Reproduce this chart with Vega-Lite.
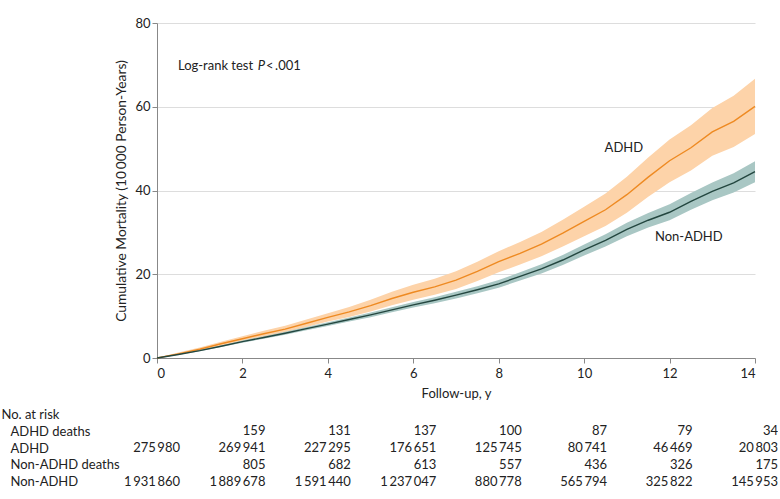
{
  "$schema": "https://vega.github.io/schema/vega-lite/v6.json",
  "padding": {"left": 1, "top": 17, "right": 0, "bottom": 0},
  "background": "white",
  "spacing": 6,
  "config": {
    "view": {"stroke": null},
    "font": "Lato",
    "locale": {"number": {"decimal": ".", "thousands": "\u2009", "grouping": [3], "currency": ["$", ""]}},
    "axis": {
      "domainColor": "#888888",
      "tickColor": "#888888",
      "labelColor": "#222222",
      "titleColor": "#222222",
      "gridColor": "#dddddd",
      "labelFontSize": 13,
      "titleFontSize": 13,
      "titleFontWeight": "normal",
      "labelFont": "Lato",
      "titleFont": "Lato"
    },
    "text": {"font": "Lato", "fontSize": 13, "color": "#222222"}
  },
  "datasets": {
    "curves": [
      {"t": 0, "g": "ADHD", "est": 0, "lo": 0, "hi": 0},
      {"t": 0.5, "g": "ADHD", "est": 1.0, "lo": 0.7, "hi": 1.3},
      {"t": 1, "g": "ADHD", "est": 2.1, "lo": 1.7, "hi": 2.5},
      {"t": 1.5, "g": "ADHD", "est": 3.4, "lo": 2.9, "hi": 3.9},
      {"t": 2, "g": "ADHD", "est": 4.6, "lo": 4.0, "hi": 5.2},
      {"t": 2.5, "g": "ADHD", "est": 5.8, "lo": 5.1, "hi": 6.5},
      {"t": 3, "g": "ADHD", "est": 6.9, "lo": 6.1, "hi": 7.7},
      {"t": 3.5, "g": "ADHD", "est": 8.3, "lo": 7.4, "hi": 9.2},
      {"t": 4, "g": "ADHD", "est": 9.7, "lo": 8.7, "hi": 10.7},
      {"t": 4.5, "g": "ADHD", "est": 11.0, "lo": 9.8, "hi": 12.2},
      {"t": 5, "g": "ADHD", "est": 12.5, "lo": 11.1, "hi": 13.9},
      {"t": 5.5, "g": "ADHD", "est": 14.2, "lo": 12.6, "hi": 15.8},
      {"t": 6, "g": "ADHD", "est": 15.7, "lo": 13.9, "hi": 17.5},
      {"t": 6.5, "g": "ADHD", "est": 17.0, "lo": 15.1, "hi": 18.9},
      {"t": 7, "g": "ADHD", "est": 18.6, "lo": 16.5, "hi": 20.7},
      {"t": 7.5, "g": "ADHD", "est": 20.7, "lo": 18.4, "hi": 23.0},
      {"t": 8, "g": "ADHD", "est": 23.0, "lo": 20.5, "hi": 25.5},
      {"t": 8.5, "g": "ADHD", "est": 25.0, "lo": 22.3, "hi": 27.7},
      {"t": 9, "g": "ADHD", "est": 27.2, "lo": 24.3, "hi": 30.1},
      {"t": 9.5, "g": "ADHD", "est": 29.8, "lo": 26.6, "hi": 33.0},
      {"t": 10, "g": "ADHD", "est": 32.6, "lo": 29.1, "hi": 36.1},
      {"t": 10.5, "g": "ADHD", "est": 35.4, "lo": 31.5, "hi": 39.3},
      {"t": 11, "g": "ADHD", "est": 39.0, "lo": 34.7, "hi": 43.3},
      {"t": 11.5, "g": "ADHD", "est": 43.2, "lo": 38.5, "hi": 47.9},
      {"t": 12, "g": "ADHD", "est": 47.1, "lo": 42.0, "hi": 52.2},
      {"t": 12.5, "g": "ADHD", "est": 50.2, "lo": 44.8, "hi": 55.6},
      {"t": 13, "g": "ADHD", "est": 54.0, "lo": 48.3, "hi": 59.7},
      {"t": 13.5, "g": "ADHD", "est": 56.5, "lo": 50.4, "hi": 62.6},
      {"t": 14, "g": "ADHD", "est": 60.1, "lo": 53.5, "hi": 66.7},
      {"t": 0, "g": "Non-ADHD", "est": 0, "lo": 0, "hi": 0},
      {"t": 0.5, "g": "Non-ADHD", "est": 0.85, "lo": 0.75, "hi": 0.95},
      {"t": 1, "g": "Non-ADHD", "est": 1.75, "lo": 1.6, "hi": 1.9},
      {"t": 1.5, "g": "Non-ADHD", "est": 2.8, "lo": 2.6, "hi": 3.0},
      {"t": 2, "g": "Non-ADHD", "est": 3.9, "lo": 3.65, "hi": 4.15},
      {"t": 2.5, "g": "Non-ADHD", "est": 4.9, "lo": 4.6, "hi": 5.2},
      {"t": 3, "g": "Non-ADHD", "est": 5.9, "lo": 5.55, "hi": 6.25},
      {"t": 3.5, "g": "Non-ADHD", "est": 7.0, "lo": 6.6, "hi": 7.4},
      {"t": 4, "g": "Non-ADHD", "est": 8.1, "lo": 7.65, "hi": 8.55},
      {"t": 4.5, "g": "Non-ADHD", "est": 9.2, "lo": 8.7, "hi": 9.7},
      {"t": 5, "g": "Non-ADHD", "est": 10.3, "lo": 9.75, "hi": 10.85},
      {"t": 5.5, "g": "Non-ADHD", "est": 11.5, "lo": 10.9, "hi": 12.1},
      {"t": 6, "g": "Non-ADHD", "est": 12.7, "lo": 12.05, "hi": 13.35},
      {"t": 6.5, "g": "Non-ADHD", "est": 13.8, "lo": 13.1, "hi": 14.5},
      {"t": 7, "g": "Non-ADHD", "est": 15.0, "lo": 14.2, "hi": 15.8},
      {"t": 7.5, "g": "Non-ADHD", "est": 16.3, "lo": 15.45, "hi": 17.15},
      {"t": 8, "g": "Non-ADHD", "est": 17.7, "lo": 16.8, "hi": 18.6},
      {"t": 8.5, "g": "Non-ADHD", "est": 19.5, "lo": 18.5, "hi": 20.5},
      {"t": 9, "g": "Non-ADHD", "est": 21.3, "lo": 20.2, "hi": 22.4},
      {"t": 9.5, "g": "Non-ADHD", "est": 23.4, "lo": 22.2, "hi": 24.6},
      {"t": 10, "g": "Non-ADHD", "est": 25.8, "lo": 24.5, "hi": 27.1},
      {"t": 10.5, "g": "Non-ADHD", "est": 28.1, "lo": 26.65, "hi": 29.55},
      {"t": 11, "g": "Non-ADHD", "est": 30.7, "lo": 29.1, "hi": 32.3},
      {"t": 11.5, "g": "Non-ADHD", "est": 32.9, "lo": 31.15, "hi": 34.65},
      {"t": 12, "g": "Non-ADHD", "est": 34.8, "lo": 32.9, "hi": 36.7},
      {"t": 12.5, "g": "Non-ADHD", "est": 37.4, "lo": 35.4, "hi": 39.4},
      {"t": 13, "g": "Non-ADHD", "est": 39.8, "lo": 37.7, "hi": 41.9},
      {"t": 13.5, "g": "Non-ADHD", "est": 41.8, "lo": 39.5, "hi": 44.1},
      {"t": 14, "g": "Non-ADHD", "est": 44.5, "lo": 42.0, "hi": 47.0}
    ],
    "risk": [
      {"row": "ADHD deaths", "t": 2, "n": 159},
      {"row": "ADHD deaths", "t": 4, "n": 131},
      {"row": "ADHD deaths", "t": 6, "n": 137},
      {"row": "ADHD deaths", "t": 8, "n": 100},
      {"row": "ADHD deaths", "t": 10, "n": 87},
      {"row": "ADHD deaths", "t": 12, "n": 79},
      {"row": "ADHD deaths", "t": 14, "n": 34},
      {"row": "ADHD", "t": 0, "n": 275980},
      {"row": "ADHD", "t": 2, "n": 269941},
      {"row": "ADHD", "t": 4, "n": 227295},
      {"row": "ADHD", "t": 6, "n": 176651},
      {"row": "ADHD", "t": 8, "n": 125745},
      {"row": "ADHD", "t": 10, "n": 80741},
      {"row": "ADHD", "t": 12, "n": 46469},
      {"row": "ADHD", "t": 14, "n": 20803},
      {"row": "Non-ADHD deaths", "t": 2, "n": 805},
      {"row": "Non-ADHD deaths", "t": 4, "n": 682},
      {"row": "Non-ADHD deaths", "t": 6, "n": 613},
      {"row": "Non-ADHD deaths", "t": 8, "n": 557},
      {"row": "Non-ADHD deaths", "t": 10, "n": 436},
      {"row": "Non-ADHD deaths", "t": 12, "n": 326},
      {"row": "Non-ADHD deaths", "t": 14, "n": 175},
      {"row": "Non-ADHD", "t": 0, "n": 1931860},
      {"row": "Non-ADHD", "t": 2, "n": 1889678},
      {"row": "Non-ADHD", "t": 4, "n": 1591440},
      {"row": "Non-ADHD", "t": 6, "n": 1237047},
      {"row": "Non-ADHD", "t": 8, "n": 880778},
      {"row": "Non-ADHD", "t": 10, "n": 565794},
      {"row": "Non-ADHD", "t": 12, "n": 325822},
      {"row": "Non-ADHD", "t": 14, "n": 145953}
    ],
    "notes": [
      {"note": "logrank", "label": "Log-rank test"},
      {"note": "p", "label": "P"},
      {"note": "pval", "label": "<\u2009.001"},
      {"note": "adhd", "label": "ADHD"},
      {"note": "non", "label": "Non-ADHD"}
    ]
  },
  "vconcat": [
    {
      "width": 598,
      "height": 335,
      "layer": [
        {
          "data": {"name": "curves"},
          "mark": {"type": "area", "opacity": 1},
          "encoding": {
            "x": {
              "field": "t",
              "type": "quantitative",
              "scale": {"domain": [0, 14], "nice": false},
              "axis": {
                "values": [0, 2, 4, 6, 8, 10, 12, 14],
                "grid": false,
                "tickSize": 5,
                "labelPadding": 4,
                "title": "Follow-up, y",
                "titlePadding": 7
              }
            },
            "y": {
              "field": "lo",
              "type": "quantitative",
              "scale": {"domain": [0, 80], "nice": false},
              "axis": {
                "values": [0, 20, 40, 60, 80],
                "grid": true,
                "tickSize": 5,
                "labelPadding": 2,
                "title": "Cumulative Mortality (10\u2009000 Person-Years)",
                "titleFontSize": 13.8,
                "titlePadding": 6
              }
            },
            "y2": {"field": "hi"},
            "fill": {
              "field": "g",
              "type": "nominal",
              "scale": {"domain": ["ADHD", "Non-ADHD"], "range": ["#FDD3A9", "#A9C7C4"]},
              "legend": null
            }
          }
        },
        {
          "data": {"name": "curves"},
          "mark": {"type": "line", "strokeWidth": 1.4},
          "encoding": {
            "x": {"field": "t", "type": "quantitative"},
            "y": {"field": "est", "type": "quantitative"},
            "stroke": {
              "field": "g",
              "type": "nominal",
              "scale": {"domain": ["ADHD", "Non-ADHD"], "range": ["#EE8A22", "#23463F"]},
              "legend": null
            }
          }
        },
        {
          "data": {"name": "notes"},
          "transform": [{"filter": "datum.note == 'logrank'"}],
          "mark": {"type": "text", "align": "left", "baseline": "middle"},
          "encoding": {"x": {"datum": 0.49}, "y": {"datum": 69.8}, "text": {"field": "label"}}
        },
        {
          "data": {"name": "notes"},
          "transform": [{"filter": "datum.note == 'p'"}],
          "mark": {"type": "text", "align": "left", "baseline": "middle", "fontStyle": "italic"},
          "encoding": {"x": {"datum": 2.36}, "y": {"datum": 69.8}, "text": {"field": "label"}}
        },
        {
          "data": {"name": "notes"},
          "transform": [{"filter": "datum.note == 'pval'"}],
          "mark": {"type": "text", "align": "left", "baseline": "middle"},
          "encoding": {"x": {"datum": 2.55}, "y": {"datum": 69.8}, "text": {"field": "label"}}
        },
        {
          "data": {"name": "notes"},
          "transform": [{"filter": "datum.note == 'adhd'"}],
          "mark": {"type": "text", "align": "center", "baseline": "middle"},
          "encoding": {"x": {"datum": 10.93}, "y": {"datum": 50.1}, "text": {"field": "label"}}
        },
        {
          "data": {"name": "notes"},
          "transform": [{"filter": "datum.note == 'non'"}],
          "mark": {"type": "text", "align": "center", "baseline": "middle"},
          "encoding": {"x": {"datum": 12.45}, "y": {"datum": 29.0}, "text": {"field": "label"}}
        }
      ]
    },
    {
      "width": 598,
      "height": 84,
      "data": {"name": "risk"},
      "mark": {"type": "text", "align": "right", "dx": 23, "baseline": "middle"},
      "encoding": {
        "x": {"field": "t", "type": "quantitative", "scale": {"domain": [0, 14], "nice": false}, "axis": null},
        "y": {
          "field": "row",
          "type": "nominal",
          "scale": {"domain": ["No. at risk", "ADHD deaths", "ADHD", "Non-ADHD deaths", "Non-ADHD"]},
          "axis": {
            "title": null,
            "domain": false,
            "ticks": false,
            "labelAlign": "left",
            "labelPadding": {"condition": {"test": "datum.value == 'No. at risk'", "value": 156}, "value": 147},
            "labelFontSize": 13
          }
        },
        "text": {"field": "n", "type": "quantitative", "format": ",d"}
      }
    }
  ]
}
